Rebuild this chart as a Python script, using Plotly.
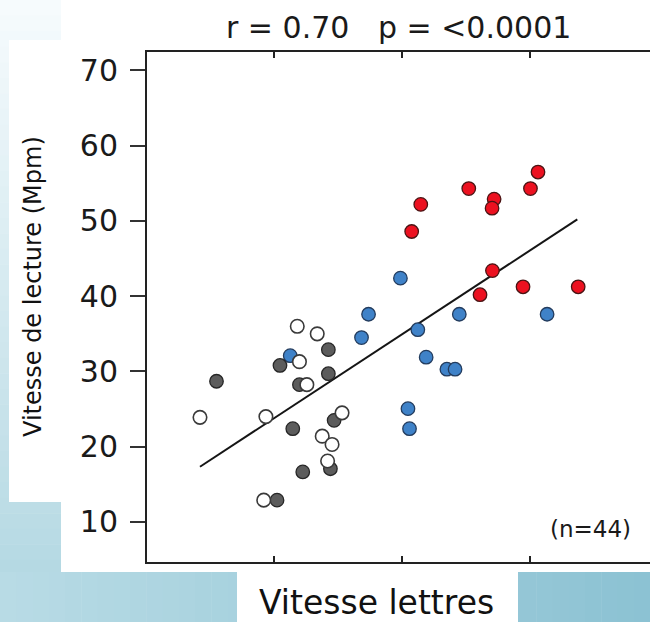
import plotly.graph_objects as go

# ---------------- data ----------------
red_x = [3.065, 3.006, 2.524, 2.722, 2.706, 2.149, 2.078, 2.709, 2.612, 2.948, 3.379]
red_y = [56.5, 54.3, 54.3, 52.9, 51.7, 52.2, 48.6, 43.4, 40.2, 41.25, 41.25]

blue_x = [1.990, 1.741, 1.686, 2.450, 3.136, 2.126, 2.191, 2.353, 2.417, 2.049, 2.061, 1.129]
blue_y = [42.4, 37.6, 34.5, 37.6, 37.6, 35.55, 31.9, 30.3, 30.3, 25.06, 22.4, 32.1]

gray_x = [0.553, 1.049, 1.427, 1.427, 1.201, 1.472, 1.149, 1.227, 1.443, 1.026]
gray_y = [28.7, 30.8, 32.9, 29.7, 28.25, 23.5, 22.4, 16.65, 17.07, 12.9]

open_x = [0.424, 0.939, 1.184, 1.340, 1.201, 1.259, 1.534, 1.379, 1.456, 1.421, 0.922]
open_y = [23.9, 24.0, 36.0, 35.0, 31.3, 28.25, 24.5, 21.4, 20.3, 18.1, 12.9]

fit_x = [0.424, 3.372]
fit_y = [17.34, 50.2]

y_ticks = [10, 20, 30, 40, 50, 60, 70]
x_ticks = [1, 2, 3]

title_text = "r = 0.70   p = <0.0001"
n_text = "(n=44)"
x_title = "Vitesse lettres"
y_title = "Vitesse de lecture (Mpm)"

# ---------------- geometry ----------------
W, H = 650, 622
L, R, T, B = 147, 650, 52, 562   # plot area in pixels


def px(x):
    return (x - L) / (R - L)


def py(y):
    return (B - y) / (B - T)


def mix(c1, c2, t):
    return "rgb(%d,%d,%d)" % tuple(round(a + (b - a) * t) for a, b in zip(c1, c2))


fig = go.Figure()

fig.add_trace(go.Scatter(x=fit_x, y=fit_y, mode="lines",
                         line=dict(color="#151515", width=2), hoverinfo="skip"))
fig.add_trace(go.Scatter(x=blue_x, y=blue_y, mode="markers",
                         marker=dict(size=13.5, color="#3f82c8",
                                     line=dict(color="#233c5e", width=1.3))))
fig.add_trace(go.Scatter(x=gray_x, y=gray_y, mode="markers",
                         marker=dict(size=13.5, color="#5c5c5c",
                                     line=dict(color="#262626", width=1.3))))
fig.add_trace(go.Scatter(x=open_x, y=open_y, mode="markers",
                         marker=dict(size=13.5, color="#ffffff",
                                     line=dict(color="#3a3a3a", width=1.6))))
fig.add_trace(go.Scatter(x=red_x, y=red_y, mode="markers",
                         marker=dict(size=13.5, color="#ec1120",
                                     line=dict(color="#4a1414", width=1.3))))

shapes = []
# left blue strip: vertical gradient
top_c, bot_c = (246, 251, 253), (176, 214, 225)
nb = 40
for i in range(nb):
    y0 = H * i / nb
    y1 = H * (i + 1) / nb + 0.5
    shapes.append(dict(type="rect", xref="paper", yref="paper", layer="below",
                       x0=px(0), x1=px(61), y0=py(y0), y1=py(y1),
                       fillcolor=mix(top_c, bot_c, i / (nb - 1)), line_width=0))
# bottom blue strip: horizontal gradient
lc, rc = (184, 219, 229), (140, 194, 211)
for i in range(nb):
    x0 = W * i / nb
    x1 = W * (i + 1) / nb + 0.5
    shapes.append(dict(type="rect", xref="paper", yref="paper", layer="below",
                       x0=px(x0), x1=px(x1), y0=py(572), y1=py(H),
                       fillcolor=mix(lc, rc, i / (nb - 1)), line_width=0))
# white boxes
shapes.append(dict(type="rect", xref="paper", yref="paper", layer="below",
                   x0=px(9), x1=px(61), y0=py(40), y1=py(502),
                   fillcolor="#ffffff", line_width=0))
shapes.append(dict(type="rect", xref="paper", yref="paper", layer="below",
                   x0=px(237), x1=px(518), y0=py(571), y1=py(H),
                   fillcolor="#ffffff", line_width=0))

annotations = [
    dict(text=title_text, xref="paper", yref="paper", x=px(398), y=py(28),
         showarrow=False, font=dict(family="DejaVu Sans", size=30, color="#1a1a1a"),
         xanchor="center", yanchor="middle"),
    dict(text=n_text, xref="paper", yref="paper", x=px(590), y=py(529),
         showarrow=False, font=dict(family="DejaVu Sans", size=23, color="#1a1a1a"),
         xanchor="center", yanchor="middle"),
    dict(text=x_title, xref="paper", yref="paper", x=px(376), y=py(602),
         showarrow=False, font=dict(family="DejaVu Sans", size=33, color="#111111"),
         xanchor="center", yanchor="middle"),
    dict(text=y_title, xref="paper", yref="paper", x=px(33), y=py(287),
         showarrow=False, textangle=-90,
         font=dict(family="DejaVu Sans", size=24, color="#111111"),
         xanchor="center", yanchor="middle"),
]

fig.update_layout(
    width=W, height=H,
    margin=dict(l=L, r=W - R, t=T, b=H - B, pad=0),
    paper_bgcolor="#ffffff", plot_bgcolor="#ffffff",
    showlegend=False,
    shapes=shapes, annotations=annotations,
)
fig.update_xaxes(range=[0.01, 3.94], tickvals=x_ticks, showticklabels=False,
                 ticks="inside", ticklen=6, tickwidth=1.5, tickcolor="#222",
                 showline=True, linecolor="#222", linewidth=2, mirror="ticks",
                 showgrid=False, zeroline=False)
fig.update_yaxes(range=[4.68, 72.45], tickvals=y_ticks,
                 ticks="outside", ticklen=15, tickwidth=1.8, tickcolor="#333",
                 ticklabelstandoff=6,
                 tickfont=dict(family="DejaVu Sans", size=30, color="#1a1a1a"),
                 showline=True, linecolor="#222", linewidth=2,
                 showgrid=False, zeroline=False)

fig.write_html("out.html")
